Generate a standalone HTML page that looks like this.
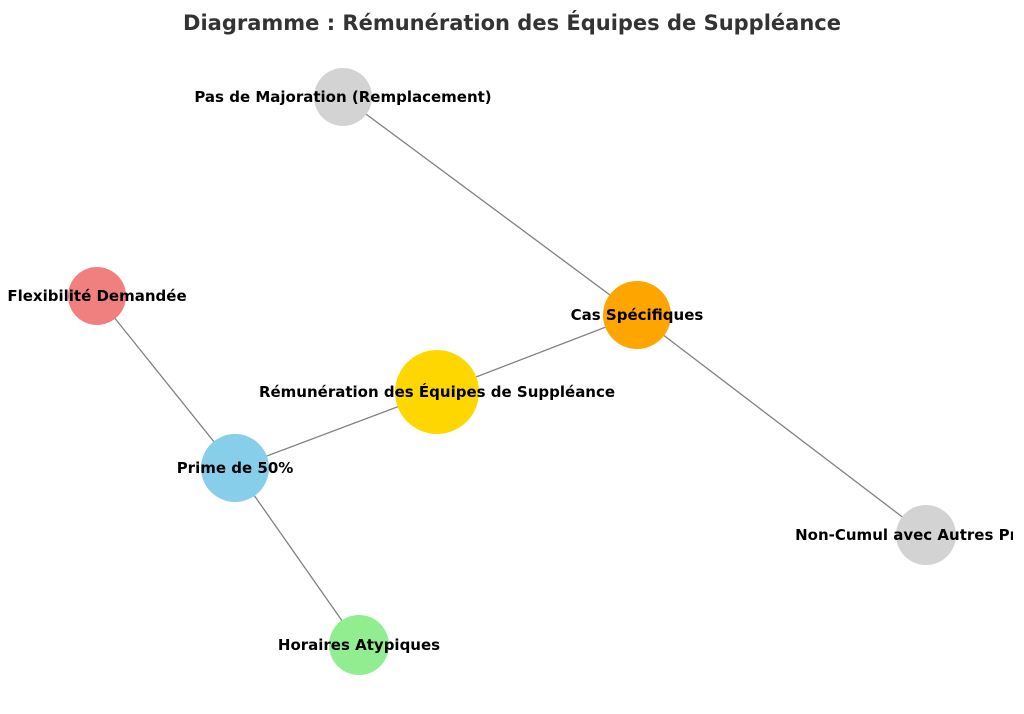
<!DOCTYPE html>
<html><head><meta charset="utf-8"><style>
html,body{margin:0;padding:0;background:#fff;}
svg{display:block;}
text{font-family:"DejaVu Sans","Liberation Sans",sans-serif;font-weight:bold;}
</style></head><body>
<svg width="1024" height="714" viewBox="0 0 1024 714" xmlns="http://www.w3.org/2000/svg">
<defs><clipPath id="c"><rect x="0" y="0" width="1013" height="714"/></clipPath></defs>
<text x="512" y="30" font-size="21" fill="#333" text-anchor="middle">Diagramme : Rémunération des Équipes de Suppléance</text>
<g stroke="#808080" stroke-width="1.3">
<line x1="343" y1="97" x2="637" y2="315"/>
<line x1="637" y1="315" x2="437" y2="392"/>
<line x1="637" y1="315" x2="926" y2="535"/>
<line x1="437" y1="392" x2="235" y2="468"/>
<line x1="235" y1="468" x2="97" y2="296"/>
<line x1="235" y1="468" x2="359" y2="645"/>
</g>
<circle cx="343" cy="97" r="29" fill="#d3d3d3"/>
<circle cx="97" cy="296" r="29" fill="#f08080"/>
<circle cx="637" cy="315" r="34" fill="#ffa500"/>
<circle cx="437" cy="392" r="42" fill="#ffd700"/>
<circle cx="235" cy="468" r="34" fill="#87ceeb"/>
<circle cx="926" cy="535" r="30" fill="#d3d3d3"/>
<circle cx="359" cy="645" r="30" fill="#90ee90"/>
<g font-size="15" fill="#000" text-anchor="middle" clip-path="url(#c)">
<text x="343" y="102">Pas de Majoration (Remplacement)</text>
<text x="97" y="301">Flexibilité Demandée</text>
<text x="637" y="320">Cas Spécifiques</text>
<text x="437" y="397">Rémunération des Équipes de Suppléance</text>
<text x="235" y="473">Prime de 50%</text>
<text x="926" y="540">Non-Cumul avec Autres Primes</text>
<text x="359" y="650">Horaires Atypiques</text>
</g>
</svg>
</body></html>
